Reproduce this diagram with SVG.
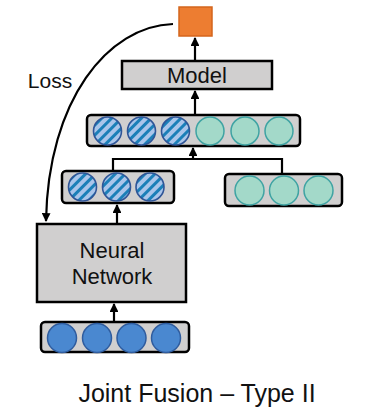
<svg xmlns="http://www.w3.org/2000/svg" width="369" height="408" viewBox="0 0 369 408">
  <style>
    .box { fill: #d0cfcf; stroke: #000; stroke-width: 2.5; }
    .row { fill: #d0cfcf; stroke: #000; stroke-width: 2.5; }
    .hatch { fill: url(#stripes); stroke: #2f5597; stroke-width: 1.6; }
    .teal { fill: #a3d9c9; stroke: #3fa3a3; stroke-width: 1.5; }
    .input { fill: #4a88d0; stroke: #2f5c9e; stroke-width: 1.5; }
    .wire { fill: none; stroke: #000; stroke-width: 2.2; }
    .label { font-family: "Liberation Sans", Arial, Helvetica, sans-serif; fill: #111; text-anchor: middle; }
  </style>
  <defs>
    <pattern id="stripes" patternUnits="userSpaceOnUse" width="7" height="7" patternTransform="rotate(45)">
      <rect x="0" y="0" width="7" height="7" fill="#aac5ea"/>
      <rect x="0" y="0" width="3" height="7" fill="#1b7fb8"/>
    </pattern>
    <marker id="arrow" viewBox="0 0 10 10" refX="9" refY="5" markerWidth="4" markerHeight="4" orient="auto" markerUnits="strokeWidth">
      <path d="M0,0 L10,5 L0,10 z" fill="#000"/>
    </marker>
  </defs>

  <!-- connectors -->
  <g id="connectors">
    <path class="wire" d="M195,61 L195,38" marker-end="url(#arrow)"/>
    <path class="wire" d="M195,115 L195,91" marker-end="url(#arrow)"/>
    <path class="wire" d="M113,171 L113,159 L282,159 L282,174"/>
    <path class="wire" d="M193,159 L193,148" marker-end="url(#arrow)"/>
    <path class="wire" d="M117,223 L117,205" marker-end="url(#arrow)"/>
    <path class="wire" d="M114,322 L114,304" marker-end="url(#arrow)"/>
    <path class="wire" d="M173,24 C108,26 48,100 46,221" marker-end="url(#arrow)"/>
    <text class="label" x="50" y="88" font-size="21">Loss</text>
  </g>

  <!-- prediction output -->
  <g id="output">
    <rect x="179" y="7" width="33" height="29" fill="#ed7d31" stroke="#d4651d" stroke-width="1.5"/>
  </g>

  <!-- model -->
  <g id="model">
    <rect class="box" x="122" y="61" width="150" height="28"/>
    <text class="label" x="197" y="83" font-size="22">Model</text>
  </g>

  <!-- concatenated features -->
  <g id="fused-features">
    <rect class="row" x="87" y="115" width="213" height="31" rx="4"/>
    <circle class="hatch" cx="107.5" cy="131" r="14"/>
    <circle class="hatch" cx="141.5" cy="131" r="14"/>
    <circle class="hatch" cx="175.5" cy="131" r="14"/>
    <circle class="teal" cx="210" cy="131" r="14"/>
    <circle class="teal" cx="245" cy="131" r="14"/>
    <circle class="teal" cx="279" cy="131" r="14"/>
  </g>

  <!-- learned features -->
  <g id="learned-features">
    <rect class="row" x="62" y="171" width="112" height="32" rx="4"/>
    <circle class="hatch" cx="82.5" cy="187" r="14"/>
    <circle class="hatch" cx="116.5" cy="187" r="14"/>
    <circle class="hatch" cx="150" cy="187" r="14"/>
  </g>

  <!-- other modality features -->
  <g id="other-features">
    <rect class="row" x="225" y="174" width="117" height="32" rx="4"/>
    <circle class="teal" cx="249.5" cy="190.5" r="14.5"/>
    <circle class="teal" cx="284" cy="190.5" r="14.5"/>
    <circle class="teal" cx="318.5" cy="190.5" r="14.5"/>
  </g>

  <!-- neural network -->
  <g id="neural-network">
    <rect class="box" x="37" y="224" width="149" height="78"/>
    <text class="label" x="112" y="258" font-size="22">Neural</text>
    <text class="label" x="112" y="284" font-size="22">Network</text>
  </g>

  <!-- raw input -->
  <g id="input">
    <rect class="row" x="41" y="322" width="148" height="30" rx="4"/>
    <circle class="input" cx="62" cy="338" r="14.5"/>
    <circle class="input" cx="97" cy="338" r="14.5"/>
    <circle class="input" cx="131.5" cy="338" r="14.5"/>
    <circle class="input" cx="166" cy="338" r="14.5"/>
  </g>

  <text class="label" x="197" y="402" font-size="25">Joint Fusion – Type II</text>
</svg>
